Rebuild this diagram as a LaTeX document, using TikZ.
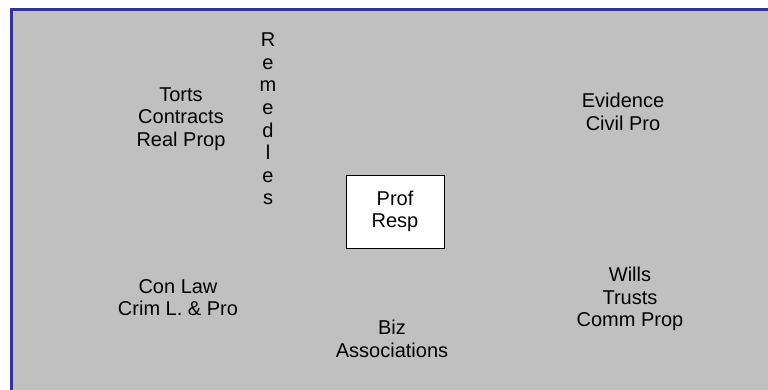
\documentclass[tikz,border=0pt]{standalone}
\usepackage{fontspec}
\setmainfont{Liberation Sans}
\usepackage{tikz}
\usetikzlibrary{positioning}
\definecolor{panelgray}{HTML}{C0C0C0}
\definecolor{edgeblue}{HTML}{3333A0}

\begin{document}
\begin{tikzpicture}[x=1pt, y=1pt, on grid, node distance=100pt,
    subject/.style={align=center, inner sep=0pt,
        font=\fontsize{20}{22.6}\selectfont},
    centerbox/.style={subject, draw=black, line width=0.8pt, fill=white,
        minimum width=98pt, minimum height=73pt}]

    \useasboundingbox (0,0) rectangle (768,390);
    \fill[panelgray] (11.5,0) rectangle (768,380.5);
    \draw[edgeblue, line width=3pt] (11.5,0) |- (768,380.5);

    \node[centerbox] (prof) at (395,178.5) {Prof\\Resp};
    \node[subject] (torts) [above left=92.5pt and 214pt of prof] {Torts\\Contracts\\Real Prop};
    \node[subject] (remedies) [above left=92.5pt and 127pt of prof] {R\\e\\m\\e\\d\\l\\e\\s};
    \node[subject] (evidence) [above right=99.5pt and 228pt of prof] {Evidence\\Civil Pro};
    \node[subject] (conlaw) [below left=86pt and 217pt of prof] {Con Law\\Crim L. \& Pro};
    \node[subject] (biz) [below left=127.5pt and 3pt of prof] {Biz\\Associations};
    \node[subject] (wills) [below right=87.5pt and 235pt of prof] {Wills\\Trusts\\Comm Prop};

\end{tikzpicture}
\end{document}
